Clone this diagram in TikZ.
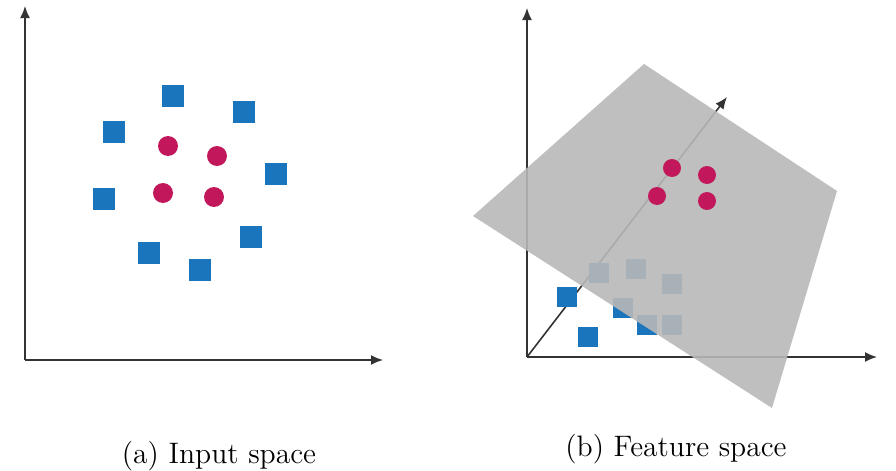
\documentclass[tikz,border=0pt]{standalone}
\usepackage{tikz}
\usetikzlibrary{positioning,arrows.meta,calc}
\definecolor{ink}{HTML}{333333}
\definecolor{sqblue}{HTML}{1B75BC}
\definecolor{dotred}{HTML}{C2185B}
\definecolor{plane}{HTML}{B8B8B8}

\begin{document}
\begin{tikzpicture}[x=0.5pt,y=-0.5pt,
  axis/.style={draw=ink,line width=0.8pt,-{Latex[length=6pt,width=5pt]}},
  sq/.style={fill=sqblue,minimum size=#1,inner sep=0},
  dot/.style={circle,fill=dotred,minimum size=#1,inner sep=0},
  subcap/.style={font=\fontsize{14.8}{18}\selectfont}]
  \useasboundingbox (0,0) rectangle (896,471);
  % (a) input space
  \coordinate (oa) at (25,360);
  \coordinate (ya) at (25,6);
  \coordinate (xa) at (383,360);
  \draw[axis] (oa) -- (ya);
  \draw[axis] (oa) -- (xa);
  \foreach \p [count=\i] in {(173,96),(244,112),(114,132),(276,174),(104,199),(251,237),(149,253),(200,270)}
    \node[sq=11pt] (sa\i) at \p {};
  \foreach \p [count=\i] in {(168,146),(217,156),(163,193),(214,197)}
    \node[dot=10pt] (ca\i) at \p {};
  \node[subcap] (capa) at (219,456) {(a) Input space};
  % (b) feature space
  \coordinate (ob) at (527,357);
  \coordinate (yb) at (527,8);
  \coordinate (xb) at (877,357);
  \coordinate (zb) at (727,97);
  \draw[axis] (ob) -- (yb);
  \draw[axis] (ob) -- (xb);
  \draw[axis] (ob) -- (zb);
  \foreach \p [count=\i] in {(567,297),(588,337),(623,308),(647,325),(599,273),(636,269),(672,284),(672,325)}
    \node[sq=10pt] (sb\i) at \p {};
  \fill[plane,opacity=0.9] (644,64) -- (837,191) -- (772,408) -- (473,216) -- cycle;
  \foreach \p [count=\i] in {(672,168),(707,175),(657,196),(707,201)}
    \node[dot=9pt] (cb\i) at \p {};
  \node[subcap] (capb) at (676,449) {(b) Feature space};
\end{tikzpicture}
\end{document}
